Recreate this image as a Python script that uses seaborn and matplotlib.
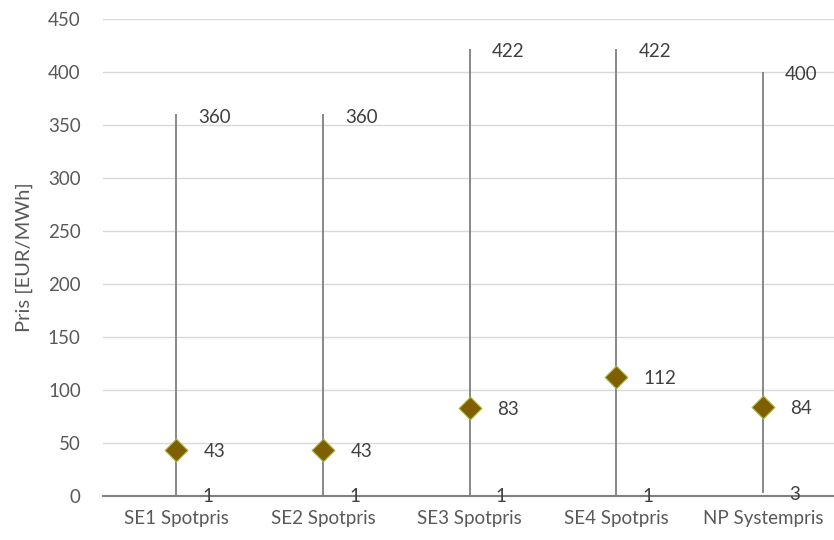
import matplotlib
matplotlib.use("Agg")
import matplotlib.pyplot as plt
import seaborn as sns
import pandas as pd

categories = ["SE1 Spotpris", "SE2 Spotpris", "SE3 Spotpris", "SE4 Spotpris", "NP Systempris"]
max_price = [360, 360, 422, 422, 400]
mean_price = [43, 43, 83, 112, 84]
min_price = [1, 1, 1, 1, 3]

df = pd.DataFrame({"Område": categories, "Max": max_price, "Medel": mean_price, "Min": min_price})

sns.set_theme(style="white")
plt.rcParams["font.family"] = ["Lato", "DejaVu Sans"]

fig = plt.figure(figsize=(8.34, 5.4), dpi=100)
ax = fig.add_axes([0.1235, 0.0815, 0.879, 0.8835])

xpos = list(range(len(categories)))
# min-max range lines
ax.vlines(xpos, df["Min"], df["Max"], color="#7f7f7f", linewidth=1.3, zorder=2)
# mean markers
sns.scatterplot(data=df, x="Område", y="Medel", marker="D", s=135, color="#7f6000",
                edgecolor="#a9b84a", linewidth=0.8, ax=ax, zorder=3, legend=False)

fs = 13.5
txt_color = "#404040"
for i, row in df.iterrows():
    ax.annotate(f"{row['Max']}", (i, row["Max"]), xytext=(16, -2), textcoords="offset points",
                ha="left", va="center", fontsize=fs, color=txt_color)
    ax.annotate(f"{row['Medel']}", (i, row["Medel"]), xytext=(20, -1), textcoords="offset points",
                ha="left", va="center", fontsize=fs, color=txt_color)
    ax.annotate(f"{row['Min']}", (i, row["Min"]), xytext=(19, -1), textcoords="offset points",
                ha="left", va="center", fontsize=fs, color=txt_color)

ax.set_xlim(-0.5, len(categories) - 0.5)
ax.set_ylim(0, 450)
ax.set_yticks(range(0, 451, 50))
ax.yaxis.grid(True, color="#d9d9d9", linewidth=1)
ax.set_axisbelow(True)
for side in ["top", "right", "left"]:
    ax.spines[side].set_visible(False)
ax.spines["bottom"].set_color("#7f7f7f")
ax.spines["bottom"].set_linewidth(1.5)
ax.tick_params(axis="both", length=0, labelsize=fs, colors="#595959")
ax.tick_params(axis="y", pad=16)
ax.tick_params(axis="x", pad=10)
ax.set_xlabel("")
ax.set_ylabel("Pris [EUR/MWh]", fontsize=14.5, color="#595959", labelpad=11)

fig.savefig("out.png", dpi=100)
